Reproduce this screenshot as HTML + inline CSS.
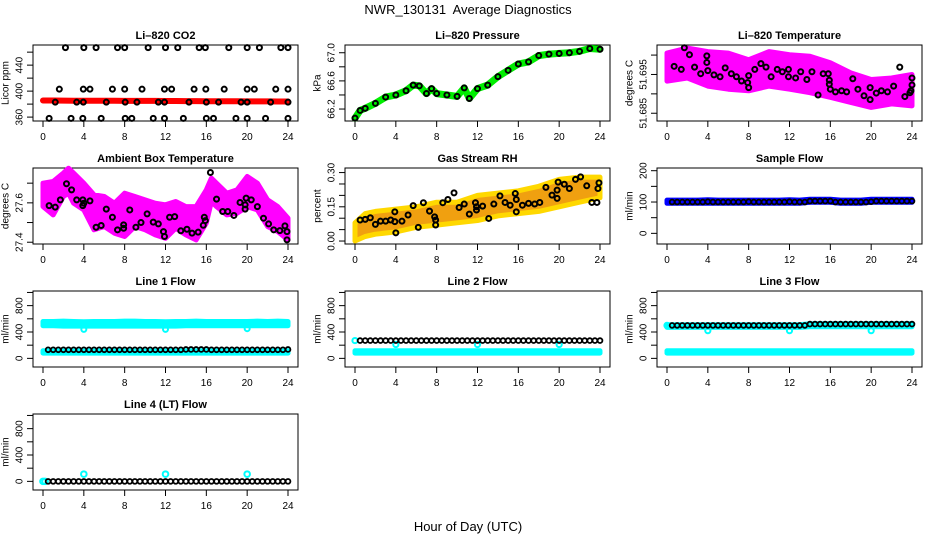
<!DOCTYPE html>
<html><head><meta charset="utf-8"><style>
body{margin:0;background:#fff}
svg{display:block;font-family:"Liberation Sans",sans-serif}
</style></head><body>
<svg id="chart" width="936" height="540" viewBox="0 0 936 540" xmlns="http://www.w3.org/2000/svg">
<text x="468" y="14" font-size="13" text-anchor="middle" style="white-space:pre" xml:space="preserve">NWR_130131  Average Diagnostics</text>
<text x="468" y="531" font-size="13" text-anchor="middle">Hour of Day (UTC)</text>
</svg>
<script>
const xTicks=[0,4,8,12,16,20,24];
const halfHours=[0.5,1,1.5,2,2.5,3,3.5,4,4.5,5,5.5,6,6.5,7,7.5,8,8.5,9,9.5,10,10.5,11,11.5,12,12.5,13,13.5,14,14.5,15,15.5,16,16.5,17,17.5,18,18.5,19,19.5,20,20.5,21,21.5,22,22.5,23,23.5,24];
const hours25=[0,1,2,3,4,5,6,7,8,9,10,11,12,13,14,15,16,17,18,19,20,21,22,23,24];
// CO2
const co2RedValues=[385.5,385.5,385.4,385.3,385.3,385.2,385.2,385.1,385,385,385,384.9,384.8,384.8,384.7,384.6,384.5,384.4,384.4,384.3,384.2,384.2,384.1,384,384];
const co2BlackHours=[2.2,4.0,5.2,7.3,8.0,10.3,12.0,13.2,15.3,15.9,18.2,20.0,21.2,23.3,24.0, 1.6,3.95,4.6,6.8,8.0,9.7,11.9,12.6,14.8,15.95,17.75,20.0,20.7,22.8,24.0, 1.2,3.3,3.95,6.2,8.05,9.2,11.3,11.9,14.3,16.0,17.2,19.4,20.0,22.3,24.0, 0.6,2.75,3.9,5.7,8.05,8.7,10.8,11.9,13.75,16.0,16.7,18.9,20.0,21.8,24.0];
const co2BlackValues=[467,467,467,467,467,467,467,467,467,467,467,467,467,467,467, 403,403,403,403,403,403,403,403,403,403,403,403,403,403,403, 383,383,383,383,383,383,383,383,383,383,383,383,383,383,383, 358,358,358,358,358,358,358,358,358,358,358,358,358,358,358];
// Pressure
const presHours=[0,0.5,1,2,3,4,5,5.7,6.3,7,7.5,8,9,10,10.7,11.2,12,13,14,15,16,17,18,19,20,21,22,23,24];
const presValues=[66.07,66.18,66.21,66.28,66.37,66.40,66.46,66.54,66.53,66.42,66.49,66.42,66.40,66.38,66.50,66.35,66.49,66.54,66.66,66.75,66.84,66.87,66.96,66.98,66.99,67.0,67.02,67.06,67.05];
// Li-820 temperature
const ltBandHours=[0,2,4,6,8,10,12,14,16,18,20,22,24];
const ltBandUpper=[51.7005,51.7018,51.7009,51.7005,51.6988,51.7009,51.7001,51.6997,51.6980,51.6954,51.6937,51.6941,51.6950];
const ltBandLower=[51.6933,51.6941,51.6920,51.6912,51.6908,51.6920,51.6912,51.6903,51.6891,51.6878,51.6865,51.6874,51.6869];
const ltBlackHours=[0.7,1.4,1.7,2.2,2.7,3.3,3.9,3.9,4,4.6,5.2,5.7,6.3,6.8,7.3,7.9,8,8,8.6,9.2,9.7,10.2,10.8,11.3,11.9,11.9,12.6,13.1,13.7,14.2,14.8,15.3,15.8,15.9,15.9,16,16.5,17.1,17.6,18.2,18.7,19.3,19.9,19.9,20.5,21.0,21.6,22.2,22.8,23.3,23.8,23.9,24,24];
const ltBlackValues=[51.6971,51.6963,51.7019,51.7001,51.6969,51.6952,51.6998,51.6981,51.6960,51.6949,51.6944,51.6967,51.6952,51.6944,51.6933,51.6929,51.6916,51.6947,51.6963,51.6978,51.6969,51.6944,51.6963,51.6957,51.6963,51.6944,51.6941,51.6957,51.6937,51.6957,51.6897,51.6952,51.6952,51.6935,51.6925,51.6912,51.6905,51.6908,51.6905,51.6939,51.6912,51.6895,51.6885,51.6916,51.6902,51.6908,51.6905,51.6920,51.6969,51.6893,51.6903,51.6908,51.6923,51.6941];
// Ambient box temperature
const abBandHours=[0,1,2,2.5,3,4,5,6,7,8,9,10,11,12,13,14,15,16,16.5,17,18,19,20,21,22,23,24];
const abBandUpper=[27.700,27.709,27.751,27.776,27.751,27.700,27.641,27.632,27.598,27.649,27.632,27.615,27.598,27.590,27.607,27.581,27.581,27.666,27.725,27.700,27.649,27.666,27.734,27.700,27.615,27.581,27.522];
const abBandLower=[27.581,27.539,27.632,27.649,27.598,27.564,27.463,27.480,27.446,27.429,27.480,27.463,27.437,27.420,27.471,27.437,27.412,27.497,27.607,27.581,27.539,27.547,27.581,27.564,27.480,27.454,27.412];
const abBlackHours=[0.6,1.2,1.7,2.3,2.8,3.3,3.9,3.9,4,4.6,5.2,5.7,6.2,6.8,7.3,7.9,7.9,8.5,9.1,9.6,10.2,10.8,11.3,11.8,11.9,12.4,12.9,13.5,14.1,14.6,15.2,15.7,15.8,15.9,16.4,17.0,17.6,18.1,18.7,19.3,19.8,19.8,19.9,20.4,21.0,21.6,22.1,22.6,23.2,23.7,23.9,23.9];
const abBlackValues=[27.586,27.578,27.615,27.697,27.666,27.615,27.615,27.586,27.598,27.610,27.476,27.485,27.568,27.527,27.463,27.488,27.471,27.564,27.476,27.500,27.544,27.502,27.493,27.454,27.429,27.527,27.530,27.458,27.466,27.446,27.451,27.486,27.527,27.510,27.754,27.619,27.556,27.556,27.536,27.602,27.590,27.568,27.624,27.615,27.581,27.522,27.493,27.463,27.459,27.483,27.454,27.412];
// Gas stream RH
const rhBandHours=[0,1,2,4,6,8,10,12,14,16,18,20,22,24];
const rhBandUpper=[0.08,0.12,0.13,0.14,0.15,0.17,0.17,0.20,0.21,0.22,0.24,0.27,0.28,0.28];
const rhBandLower=[0.00,0.02,0.03,0.04,0.06,0.07,0.08,0.09,0.11,0.12,0.13,0.15,0.17,0.19];
const rhBlackHours=[0.5,1,1.5,2,2.5,3,3.5,3.9,3.9,4,4.6,5.2,5.7,6.2,6.7,7.3,7.8,7.9,7.9,8.6,9.1,9.7,10.2,10.7,11.2,11.8,11.9,11.9,12.5,13.1,13.6,14.2,14.7,15.2,15.7,15.8,15.8,16.4,17,17.6,18.1,18.7,19.3,19.8,19.8,19.9,20.5,21,21.6,22.1,22.7,23.2,23.7,23.8,23.9];
const rhBlackValues=[0.092,0.095,0.102,0.073,0.087,0.087,0.092,0.128,0.085,0.036,0.087,0.114,0.155,0.060,0.168,0.131,0.106,0.092,0.07,0.168,0.182,0.211,0.147,0.162,0.118,0.168,0.150,0.136,0.153,0.099,0.162,0.198,0.169,0.157,0.208,0.182,0.128,0.157,0.165,0.162,0.169,0.235,0.201,0.187,0.223,0.258,0.249,0.230,0.270,0.281,0.242,0.169,0.169,0.230,0.255];
// Sample flow
const sfBandUpper=[106,106,106,106,107,106,106,106,106,106,106,106,107,106,109,109,109,106,106,106,109,109,109,109,109];
const sfBandLower=[96,96,96,96,96,96,96,96,96,96,96,96,96,96,99,99,99,96,96,96,99,99,99,99,99];
const sfBlackValues=[100,100,100,100,100,100,100,101,100,100,100,100,100,100,100,101,100,100,100,100,100,100,100,101,100,100,100,103,103,103,103,103,100,100,100,100,100,100,100,101,103,103,103,103,103,103,103,103];
// Line flows
const l1HiUpper=[560,560,565,560,555,560,560,560,565,565,560,560,555,560,560,565,560,560,560,560,560,565,560,565,560];
const l1HiLower=[495,495,490,490,490,490,490,490,490,490,490,490,490,490,495,495,495,495,495,495,495,495,495,495,495];
const l1LoUpper=[115,115,115,115,115,115,115,115,115,115,115,115,115,115,115,115,115,115,115,115,115,115,115,115,115];
const l1LoLower=[80,80,80,80,80,80,80,80,80,80,80,80,80,80,80,80,80,80,80,80,80,80,80,80,80];
const l1DipHours=[4,12,20];
const l1DipValues=[440,440,450];
const l1BlackValues=[130,130,130,130,130,130,130,130,130,130,130,130,130,130,130,130,130,130,130,130,130,130,130,130,130,130,130,135,135,135,135,135,130,130,130,130,130,130,130,130,130,130,130,130,130,130,130,135];
const l2LoUpper=[115,115,115,115,115,115,115,115,115,115,115,115,115,115,115,115,115,115,115,115,115,115,115,115,115];
const l2LoLower=[80,80,80,80,80,80,80,80,80,80,80,80,80,80,80,80,80,80,80,80,80,80,80,80,80];
const l2CyanHours=[0,4,12,20];
const l2CyanValues=[270,210,210,210];
const l2BlackValues=[270,270,270,270,270,270,270,270,270,270,270,270,270,270,270,270,270,270,270,270,270,270,270,270,270,270,270,270,270,270,270,270,270,270,270,270,270,270,270,270,270,270,270,270,270,270,270,270];
const l3HiUpper=[510,510,510,510,510,510,510,510,510,510,510,510,510,510,525,525,525,525,525,525,525,525,525,525,525];
const l3HiLower=[470,470,470,470,470,470,470,470,470,470,470,470,470,470,480,480,480,480,480,480,480,480,480,480,480];
const l3LoUpper=[115,115,115,115,115,115,115,115,115,115,115,115,115,115,115,115,115,115,115,115,115,115,115,115,115];
const l3LoLower=[80,80,80,80,80,80,80,80,80,80,80,80,80,80,80,80,80,80,80,80,80,80,80,80,80];
const l3CyanHours=[0,4,12,20];
const l3CyanValues=[500,420,420,420];
const l3BlackValues=[500,500,500,500,500,500,500,500,500,500,500,500,500,500,500,500,500,500,500,500,500,500,500,500,500,500,500,520,520,520,520,520,520,520,520,520,520,520,520,520,520,520,520,520,520,520,520,520];
const l4CyanHours=[0,0.2,4,12,20];
const l4CyanValues=[0,0,110,110,110];
const l4BlackValues=[0,0,0,0,0,0,0,0,0,0,0,0,0,0,0,0,0,0,0,0,0,0,0,0,0,0,0,0,0,0,0,0,0,0,0,0,0,0,0,0,0,0,0,0,0,0,0,0];

const flowTicks=[0,200,400,600,800,1000];
const flowLabels=['0','','400','','800',''];

const NS='http://www.w3.org/2000/svg';
const svg=document.getElementById('chart');
function mk(tag,attrs,parent){const e=document.createElementNS(NS,tag);for(const k in attrs)e.setAttribute(k,attrs[k]);(parent||svg).appendChild(e);return e;}

const colX=[43,355,667];
const rowY=[45,168,291,414];
const PW=245, PH=76;

function makePanel(name,col,row,ymin,ymax,yticks,ylabels,title,ylab){
  const x0=colX[col], top=rowY[row], bottom=top+PH;
  const g=mk('g',{});
  
  
  const xs=h=>x0+h*PW/24;
  const ys=v=>bottom-(v-ymin)/(ymax-ymin)*PH;
  const L=x0-10, R=x0+PW+10;
  const t=mk('text',{x:(L+R)/2,y:top-6,'font-size':11,'font-weight':'bold','text-anchor':'middle'},g);
  t.textContent=title;
  
  
  const box=mk('rect',{x:L,y:top,width:R-L,height:PH,fill:'none',stroke:'#000','stroke-width':1},g);
  
  
  const xa=mk('g',{},g);
  
  
  mk('line',{x1:xs(xTicks[0]),x2:xs(xTicks[xTicks.length-1]),y1:bottom,y2:bottom,stroke:'#000'},xa);
  xTicks.forEach(tk=>{
    mk('line',{x1:xs(tk),x2:xs(tk),y1:bottom,y2:bottom+6,stroke:'#000'},xa);
    const tl=mk('text',{x:xs(tk),y:bottom+19,'font-size':10,'text-anchor':'middle'},xa);
    tl.textContent=String(tk);
    
    
  });
  const ya=mk('g',{},g);
  
  
  mk('line',{x1:L,x2:L,y1:ys(yticks[0]),y2:ys(yticks[yticks.length-1]),stroke:'#000'},ya);
  yticks.forEach((tk,i)=>{
    mk('line',{x1:L-6,x2:L,y1:ys(tk),y2:ys(tk),stroke:'#000'},ya);
    if(ylabels[i]){
      const yy=ys(tk), xx=L-13;
      const tl=mk('text',{x:xx,y:yy,'font-size':10,'text-anchor':'middle','dominant-baseline':'central',transform:`rotate(-90 ${xx} ${yy})`},ya);
      tl.textContent=ylabels[i];
      
      
    }
  });
  const yl=mk('text',{x:L-27,y:(top+bottom)/2,'font-size':10,'text-anchor':'middle','dominant-baseline':'central',transform:`rotate(-90 ${L-27} ${(top+bottom)/2})`},g);
  yl.textContent=ylab;
  
  
  return {g,xs,ys};
}
function points(p,name,hrs,vals,color,r,sw){
  const g=mk('g',{},p.g);
  
  
  hrs.forEach((h,i)=>{
    const c=mk('circle',{cx:p.xs(h),cy:p.ys(vals[i]),r:r||2.5,fill:'none',stroke:color,'stroke-width':sw||2},g);
    
    
  });
}
function band(p,name,hrs,up,lo,fill,stroke){
  let d='';
  hrs.forEach((h,i)=>{d+=(i?'L':'M')+p.xs(h).toFixed(1)+','+p.ys(up[i]).toFixed(1);});
  for(let i=hrs.length-1;i>=0;i--)d+='L'+p.xs(hrs[i]).toFixed(1)+','+p.ys(lo[i]).toFixed(1);
  d+='Z';
  const e=mk('path',{d:d,fill:fill,stroke:stroke||fill,'stroke-width':5,'stroke-linejoin':'round'},p.g);
  
  
}
function line(p,name,hrs,vals,color,w){
  const pts=hrs.map((h,i)=>p.xs(h).toFixed(1)+','+p.ys(vals[i]).toFixed(1)).join(' ');
  const e=mk('polyline',{points:pts,fill:'none',stroke:color,'stroke-width':w,'stroke-linejoin':'round','stroke-linecap':'round'},p.g);
  
  
}

// Panel 1: CO2
let p=makePanel('co2',0,0,354,471,[360,380,400,420,440,460],['360','','400','','440',''],'Li\u2013820 CO2','Licor ppm');
line(p,'co2-red-series',hours25,co2RedValues,'#ff0000',6);
points(p,'co2-black-series',co2BlackHours,co2BlackValues,'#000');

// Panel 2: Pressure
p=makePanel('pressure',1,0,66.03,67.11,[66.2,66.4,66.6,66.8,67.0],['66.2','','66.6','','67.0'],'Li\u2013820 Pressure','kPa');
line(p,'pressure-green-series',presHours,presValues,'#00ee00',7);
points(p,'pressure-black-series',presHours,presValues,'#000');

// Panel 3: Li-820 Temperature
p=makePanel('li820-temp',2,0,51.683,51.7026,[51.685,51.69,51.695,51.70],['51.685','','51.695',''],'Li\u2013820 Temperature','degrees C');
band(p,'li820-temp-magenta-cloud',ltBandHours,ltBandUpper,ltBandLower,'#ff00ff');
points(p,'li820-temp-black-series',ltBlackHours,ltBlackValues,'#000');

// Panel 4: Ambient
p=makePanel('ambient-temp',0,1,27.391,27.777,[27.4,27.5,27.6,27.7],['27.4','','27.6',''],'Ambient Box Temperature','degrees C');
band(p,'ambient-temp-magenta-cloud',abBandHours,abBandUpper,abBandLower,'#ff00ff');
points(p,'ambient-temp-black-series',abBlackHours,abBlackValues,'#000');

// Panel 5: RH
p=makePanel('gas-rh',1,1,-0.013,0.32,[0,0.05,0.10,0.15,0.20,0.25,0.30],['0.00','','','0.15','','','0.30'],'Gas Stream RH','percent');
band(p,'gas-rh-orange-cloud',rhBandHours,rhBandUpper,rhBandLower,'#f0a010','#ffd800');
points(p,'gas-rh-black-series',rhBlackHours,rhBlackValues,'#000');

// Panel 6: Sample flow
p=makePanel('sample-flow',2,1,-34,208.6,[0,50,100,150,200],['0','','100','','200'],'Sample Flow','ml/min');
band(p,'sample-flow-blue-series',hours25,sfBandUpper,sfBandLower,'#0000ff');
points(p,'sample-flow-black-series',halfHours,sfBlackValues,'#000',2.4,1.8);

// Line 1
p=makePanel('line1-flow',0,2,-131,1022,flowTicks,flowLabels,'Line 1 Flow','ml/min');
band(p,'line1-cyan-high',hours25,l1HiUpper,l1HiLower,'#00ffff');
band(p,'line1-cyan-low',hours25,l1LoUpper,l1LoLower,'#00ffff');
points(p,'line1-cyan-dips',l1DipHours,l1DipValues,'#00ffff');
points(p,'line1-black-series',halfHours,l1BlackValues,'#000',2.4,1.8);

// Line 2
p=makePanel('line2-flow',1,2,-131,1022,flowTicks,flowLabels,'Line 2 Flow','ml/min');
band(p,'line2-cyan-low',hours25,l2LoUpper,l2LoLower,'#00ffff');
points(p,'line2-cyan-points',l2CyanHours,l2CyanValues,'#00ffff',2.6,2);
points(p,'line2-black-series',halfHours,l2BlackValues,'#000',2.4,1.8);

// Line 3
p=makePanel('line3-flow',2,2,-131,1022,flowTicks,flowLabels,'Line 3 Flow','ml/min');
band(p,'line3-cyan-high',hours25,l3HiUpper,l3HiLower,'#00ffff');
band(p,'line3-cyan-low',hours25,l3LoUpper,l3LoLower,'#00ffff');
points(p,'line3-cyan-points',l3CyanHours,l3CyanValues,'#00ffff',2.6,2);
points(p,'line3-black-series',halfHours,l3BlackValues,'#000',2.4,1.8);

// Line 4
p=makePanel('line4-flow',0,3,-131,1022,flowTicks,flowLabels,'Line 4 (LT) Flow','ml/min');
points(p,'line4-cyan-points',l4CyanHours,l4CyanValues,'#00ffff',2.8,2);
points(p,'line4-black-series',halfHours,l4BlackValues,'#000',2.4,1.8);
</script>
</body></html>
